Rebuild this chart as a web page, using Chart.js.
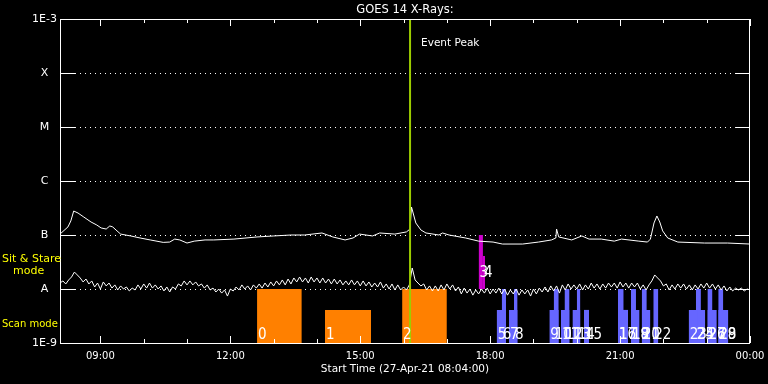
<!DOCTYPE html>
<html>
<head>
<meta charset="utf-8">
<title>GOES 14 X-Rays</title>
<script src="https://cdn.jsdelivr.net/npm/chart.js@4.4.1/dist/chart.umd.min.js"></script>
<style>
  html,body{margin:0;padding:0;background:#000;}
  #wrap{width:768px;height:384px;position:relative;}
</style>
</head>
<body>
<div id="wrap"><canvas id="goesChart"></canvas></div>
<script>

// =========================
// DATA
// =========================

const startTime = "08:04";
const endTime = "24:00";
const peakTime = "16:09";

// long channel, flux in units of 1E-9 W/m2
const longTimes = [
  "08:04","08:15","08:19","08:23","08:29","08:37","08:47","08:55","09:01","09:08",
  "09:13","09:17","09:23","09:28","09:42","09:55","10:09","10:27","10:36","10:43",
  "10:50","11:00","11:10","11:25","11:37","12:05","12:37","13:00","13:24","13:43",
  "14:07","14:22","14:39","14:50","14:59","15:17","15:27","15:48","16:04","16:09",
  "16:11","16:17","16:24","16:31","16:49","16:54","17:03","17:26","17:44","18:04",
  "18:17","18:45","19:07","19:25","19:31","19:32","19:35","19:53","20:07","20:17",
  "20:34","20:52","21:02","21:26","21:38","21:42","21:47","21:51","21:55","21:59",
  "22:06","22:20","22:57","23:29","24:00"
];

const longFlux = [
  104,141,182,278,255,215,174,153,135,129,
  147,141,119,104,96,88,81,73,74,84,
  81,71,77,81,81,84,92,96,100,100,
  109,92,81,88,104,96,109,104,114,129,
  330,167,124,109,100,109,100,88,77,74,
  68,68,74,81,88,129,92,81,96,84,
  84,77,84,77,74,84,167,225,174,119,
  88,74,71,71,68
];

// short channel, one sample every 4 minutes from the start time
const shortCadence = 4;

const shortFlux = [
  12.9,14.1,12.4,14.7,16.7,20.6,18.2,16.0,13.5,15.3,
  12.4,14.1,10.9,12.9,10.0,13.5,11.4,12.9,10.4,11.9,
  9.6,11.4,10.0,10.9,9.2,10.4,9.6,11.9,10.0,12.4,
  10.4,12.9,10.4,11.9,10.0,11.4,9.2,10.9,8.8,10.9,
  10.0,12.4,11.4,14.1,11.9,14.1,11.9,13.5,11.4,12.4,
  10.4,11.9,9.6,10.4,8.8,10.0,8.4,9.6,7.4,10.0,
  9.2,10.9,9.6,11.9,10.0,11.4,9.6,11.9,10.4,12.4,
  10.4,12.9,10.9,13.5,11.4,14.1,11.9,14.7,11.9,15.3,
  12.4,16.0,13.5,16.7,13.5,16.0,12.9,16.7,13.5,16.0,
  12.9,16.0,12.9,15.3,12.4,15.3,12.4,14.7,11.9,14.1,
  11.9,14.7,11.9,14.1,11.4,14.1,11.4,13.5,10.9,12.9,
  10.9,13.5,10.4,12.4,10.0,12.4,9.6,11.9,9.6,10.9,
  9.6,11.9,24.5,14.7,12.9,11.4,12.4,9.6,11.4,9.2,
  11.4,9.2,11.9,9.6,12.4,10.0,11.9,9.2,10.9,8.1,
  10.4,8.4,10.0,7.7,9.6,8.1,10.0,8.4,10.4,8.1,
  10.0,8.4,10.4,8.1,10.0,7.7,9.6,8.1,10.0,7.7,
  9.6,8.1,9.6,7.4,10.0,8.1,10.4,8.8,10.9,8.8,
  11.4,9.2,11.4,8.4,11.9,9.6,12.4,10.0,11.9,10.0,
  12.4,9.6,11.9,10.0,12.9,10.4,12.4,10.0,12.4,10.4,
  12.9,10.9,12.9,10.4,13.5,10.9,12.9,10.4,12.9,10.9,
  12.9,10.0,11.9,9.6,11.9,14.1,18.2,16.0,14.1,11.4,
  12.4,9.6,11.9,10.0,12.4,10.4,12.4,10.0,11.9,9.6,
  11.9,10.0,12.4,10.4,12.9,10.4,12.4,10.0,11.9,9.6,
  11.4,9.2,10.9,9.2,10.4,9.6,10.4,9.2,10.0,9.6
];

// observation windows (numbered 0..29)
const barStart = [
  "12:37","14:11","15:58","17:44","17:50","18:09","18:16","18:26","18:33","19:22",
  "19:28","19:38","19:43","19:54","20:00","20:10","20:57","20:57","21:15","21:15",
  "21:30","21:30","21:46","22:35","22:45","22:45","23:01","23:01","23:16","23:16"
];

const barEnd = [
  "13:39","15:15","17:00","17:50","17:53","18:22","18:22","18:38","18:38","19:35",
  "19:35","19:50","19:50","20:05","20:05","20:17","21:11","21:05","21:27","21:22",
  "21:42","21:37","21:53","22:47","22:52","22:58","23:08","23:14","23:23","23:30"
];

// top of each window, units of 1E-9
const barTop = [
  10,4.1,10,100,41,4.1,10,4.1,10,4.1,
  10,4.1,10,4.1,10,4.1,4.1,10,4.1,10,
  4.1,10,10,4.1,10,4.1,10,4.1,10,4.1
];

const barMode = [
  "scan1","scan1","scan1","sit","sit",
  "scan2","scan2","scan2","scan2","scan2","scan2","scan2","scan2","scan2","scan2",
  "scan2","scan2","scan2","scan2","scan2","scan2","scan2","scan2","scan2","scan2",
  "scan2","scan2","scan2","scan2","scan2"
];

// bottom of each mode row, units of 1E-9
const modeBase = { scan1:1, scan2:1, sit:10 };

const xTickHours = [9,12,15,18,21,24];

const yTickValues = [1e-9,1e-8,1e-7,1e-6,1e-5,1e-4,1e-3];
const yTickLabels = ["1E-9","A","B","C","M","X","1E-3"];

// =========================
// HELPERS
// =========================

const modeColor = {
  scan1:'#ff8000',
  scan2:'#6666ff',
  sit:'#cc00cc'
};

const FONT = "'DejaVu Sans', 'Liberation Sans', sans-serif";

function toHours(hhmm){

  const parts = hhmm.split(":").map(Number);

  return parts[0] + parts[1] / 60;

}

function line(ctx,x1,y1,x2,y2){

  ctx.beginPath();
  ctx.moveTo(x1,y1);
  ctx.lineTo(x2,y2);
  ctx.stroke();

}

// =========================
// DATASETS
// =========================

const datasets = [];

datasets.push({
  data:[
    {x:toHours(peakTime), y:1e-9},
    {x:toHours(peakTime), y:1e-3}
  ],
  borderColor:'#9ccc00',
  borderWidth:2,
  pointRadius:0,
  order:0
});

datasets.push({
  data:longTimes.map((t,i)=>({x:toHours(t), y:longFlux[i] * 1e-9})),
  borderColor:'#ffffff',
  borderWidth:1,
  pointRadius:0,
  order:1
});

datasets.push({
  data:shortFlux.map((v,i)=>({
    x:toHours(startTime) + i * shortCadence / 60,
    y:v * 1e-9
  })),
  borderColor:'#ffffff',
  borderWidth:1,
  pointRadius:0,
  order:1
});

barStart.forEach((s,i)=>{

  datasets.push({
    data:[
      {x:toHours(s), y:barTop[i] * 1e-9},
      {x:toHours(barEnd[i]), y:barTop[i] * 1e-9}
    ],
    borderColor:'rgba(0,0,0,0)',
    borderWidth:0,
    backgroundColor:modeColor[barMode[i]],
    fill:{value:modeBase[barMode[i]] * 1e-9},
    pointRadius:0,
    order:2
  });

});

// =========================
// DECORATION PLUGIN
// =========================

const goesPlugin = {

  id:'goesFrame',

  beforeDatasetsDraw(chart){

    const {ctx, chartArea:a, scales:{y}} = chart;

    ctx.save();
    ctx.strokeStyle = '#ffffff';
    ctx.lineWidth = 1;

    yTickValues.slice(1,-1).forEach(v=>{

      const py = Math.round(y.getPixelForValue(v)) + 0.5;

      ctx.setLineDash([1,4]);
      line(ctx, a.left + 15, py, a.right - 15, py);

      ctx.setLineDash([]);
      line(ctx, a.left, py, a.left + 15, py);
      line(ctx, a.right - 15, py, a.right, py);

    });

    ctx.restore();

  },

  afterDatasetsDraw(chart){

    const {ctx, chartArea:a, scales:{x,y}} = chart;

    ctx.save();

    // frame
    ctx.strokeStyle = '#ffffff';
    ctx.lineWidth = 1;
    ctx.strokeRect(a.left + 0.5, a.top + 0.5, a.right - a.left - 1, a.bottom - a.top);

    // hour ticks, top and bottom, pointing in
    for(let h = Math.ceil(x.min); h <= x.max; h++){

      const px = Math.round(x.getPixelForValue(h)) + 0.5;
      const len = h % 3 === 0 ? 7 : 4;

      line(ctx, px, a.top, px, a.top + len);
      line(ctx, px, a.bottom, px, a.bottom - len);

    }

    // window numbers
    ctx.fillStyle = '#ffffff';
    ctx.textAlign = 'left';
    ctx.textBaseline = 'alphabetic';
    ctx.font = "15px 'DejaVu Sans Condensed', 'Liberation Sans Narrow', 'DejaVu Sans', sans-serif";

    barStart.forEach((s,i)=>{

      const px = x.getPixelForValue(toHours(s)) + 1;
      const base = y.getPixelForValue(modeBase[barMode[i]] * 1e-9);
      const lift = barMode[i] === 'sit' ? 12 : 4;

      ctx.fillText(String(i), px, base - lift);

    });

    // event peak
    ctx.font = '10.5px ' + FONT;
    ctx.textBaseline = 'middle';
    ctx.fillText('Event Peak', x.getPixelForValue(toHours(peakTime)) + 11, a.top + 24);

    // titles
    ctx.textAlign = 'center';
    ctx.font = '11.5px ' + FONT;
    ctx.fillText('GOES 14 X-Rays:', (a.left + a.right) / 2, 10);

    ctx.font = '10.5px ' + FONT;
    ctx.fillText('Start Time (27-Apr-21 08:04:00)', (a.left + a.right) / 2, 369);

    // mode labels
    ctx.fillStyle = '#ffff00';
    ctx.textAlign = 'left';
    ctx.font = '11px ' + FONT;
    ctx.fillText('Sit & Stare', 2, 259);
    ctx.fillText('mode', 13, 271);

    ctx.font = '10px ' + FONT;
    ctx.fillText('Scan mode', 2, 324);

    ctx.restore();

  }

};

// =========================
// CHART
// =========================

Chart.defaults.font.family = FONT;
Chart.defaults.color = '#ffffff';

new Chart(

  document.getElementById("goesChart"),

  {

    type:'line',

    data:{ datasets },

    options:{

      responsive:true,
      maintainAspectRatio:false,
      animation:false,
      events:[],

      layout:{
        padding:{top:19, right:18, left:0, bottom:0}
      },

      plugins:{
        legend:{display:false},
        tooltip:{enabled:false},
        title:{display:false}
      },

      scales:{

        x:{
          type:'linear',
          min:toHours(startTime),
          max:toHours(endTime),
          grid:{display:false, drawTicks:false},
          border:{display:false},
          afterBuildTicks:scale=>{
            scale.ticks = xTickHours.map(v=>({value:v}));
          },
          afterFit:scale=>{
            scale.height = 41;
            scale.paddingLeft = 0;
            scale.paddingRight = 0;
          },
          ticks:{
            color:'#ffffff',
            font:{size:10},
            padding:7,
            maxRotation:0,
            autoSkip:false,
            callback:v=>String(v % 24).padStart(2,'0') + ':00'
          }
        },

        y:{
          type:'logarithmic',
          min:1e-9,
          max:1e-3,
          grid:{display:false, drawTicks:false},
          border:{display:false},
          afterBuildTicks:scale=>{
            scale.ticks = yTickValues.map(v=>({value:v}));
          },
          afterFit:scale=>{
            scale.width = 60;
            scale.paddingTop = 0;
            scale.paddingBottom = 0;
          },
          ticks:{
            color:'#ffffff',
            font:{size:11},
            padding:3,
            crossAlign:'center',
            autoSkip:false,
            callback:(v,i)=>yTickLabels[i]
          }
        }

      }

    },

    plugins:[goesPlugin]

  }

);

</script>
</body>
</html>
